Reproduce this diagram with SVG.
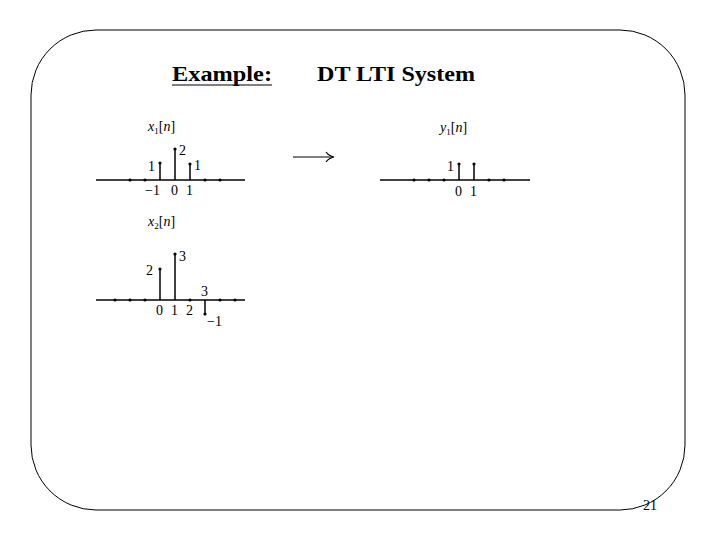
<svg xmlns="http://www.w3.org/2000/svg" width="720" height="540" viewBox="0 0 720 540">
<style>
.t{font-family:"Liberation Serif",serif;fill:#000}
.b{font-weight:bold;font-size:22px}
.m{font-size:14px}
.i{font-style:italic;font-size:14px}
.ax{stroke:#000;stroke-width:1.5}
.st{stroke:#000;stroke-width:1.5}
.d{fill:#000}
</style>
<rect x="31" y="30" width="654" height="480" rx="65" ry="65" fill="#fff" stroke="#000" stroke-width="1"/>
<text class="t b" x="172" y="81" textLength="100" lengthAdjust="spacingAndGlyphs">Example:</text>
<line x1="172" y1="85" x2="272" y2="85" stroke="#000" stroke-width="1.2"/>
<text class="t b" x="317" y="81" textLength="158" lengthAdjust="spacingAndGlyphs">DT LTI System</text>
<text class="t" x="643" y="510" font-size="14">21</text>
<g id="x1">
<text class="t i" x="148" y="131">x<tspan font-size="9" font-style="normal" dy="3">1</tspan><tspan font-style="normal" dy="-3">[</tspan>n<tspan font-style="normal">]</tspan></text>
<line class="ax" x1="96" y1="180" x2="245" y2="180" stroke="#888"/>
<line class="st" x1="160" y1="180" x2="160" y2="163"/>
<line class="st" x1="175" y1="180" x2="175" y2="149"/>
<line class="st" x1="190" y1="180" x2="190" y2="164"/>
<g class="d"><circle cx="130" cy="180" r="1.6"/><circle cx="145" cy="180" r="1.6"/><circle cx="160" cy="163" r="1.6"/><circle cx="175" cy="149" r="1.6"/><circle cx="190" cy="164" r="1.6"/><circle cx="205" cy="180" r="1.6"/><circle cx="220" cy="180" r="1.6"/></g>
<text class="t m" x="148" y="171">1</text><text class="t m" x="179" y="155">2</text><text class="t m" x="194" y="170">1</text>
<text class="t m" x="145" y="195">−1</text><text class="t m" x="171" y="195">0</text><text class="t m" x="186" y="195">1</text>
</g>
<g id="x2">
<text class="t i" x="148" y="226">x<tspan font-size="9" font-style="normal" dy="3">2</tspan><tspan font-style="normal" dy="-3">[</tspan>n<tspan font-style="normal">]</tspan></text>
<line class="ax" x1="96" y1="300" x2="245" y2="300"/>
<line class="st" x1="160" y1="300" x2="160" y2="269"/>
<line class="st" x1="175" y1="300" x2="175" y2="254"/>
<line class="st" x1="205" y1="300" x2="205" y2="314"/>
<g class="d"><circle cx="115" cy="300" r="1.6"/><circle cx="130" cy="300" r="1.6"/><circle cx="145" cy="300" r="1.6"/><circle cx="160" cy="269" r="1.6"/><circle cx="175" cy="254" r="1.6"/><circle cx="190" cy="300" r="1.6"/><circle cx="205" cy="314" r="1.6"/><circle cx="220" cy="300" r="1.6"/><circle cx="235" cy="300" r="1.6"/></g>
<text class="t m" x="146" y="275">2</text><text class="t m" x="179" y="261">3</text><text class="t m" x="201" y="296">3</text>
<text class="t m" x="156" y="315">0</text><text class="t m" x="171" y="315">1</text><text class="t m" x="186" y="315">2</text><text class="t m" x="207" y="326">−1</text>
</g>
<g id="arrow">
<line x1="293" y1="157" x2="333" y2="157" stroke="#000" stroke-width="1.2"/>
<path d="M326 152 Q329 156 334 157 Q329 158 326 162" fill="none" stroke="#000" stroke-width="1.2"/>
</g>
<g id="y1">
<text class="t i" x="440" y="132">y<tspan font-size="9" font-style="normal" dy="3">1</tspan><tspan font-style="normal" dy="-3">[</tspan>n<tspan font-style="normal">]</tspan></text>
<line class="ax" x1="380" y1="180" x2="530" y2="180"/>
<line class="st" x1="459" y1="180" x2="459" y2="164"/>
<line class="st" x1="474" y1="180" x2="474" y2="164"/>
<g class="d"><circle cx="414" cy="180" r="1.6"/><circle cx="429" cy="180" r="1.6"/><circle cx="444" cy="180" r="1.6"/><circle cx="459" cy="164" r="1.6"/><circle cx="474" cy="164" r="1.6"/><circle cx="489" cy="180" r="1.6"/><circle cx="504" cy="180" r="1.6"/></g>
<text class="t m" x="447" y="171">1</text>
<text class="t m" x="455" y="196">0</text><text class="t m" x="470" y="196">1</text>
</g>
</svg>
